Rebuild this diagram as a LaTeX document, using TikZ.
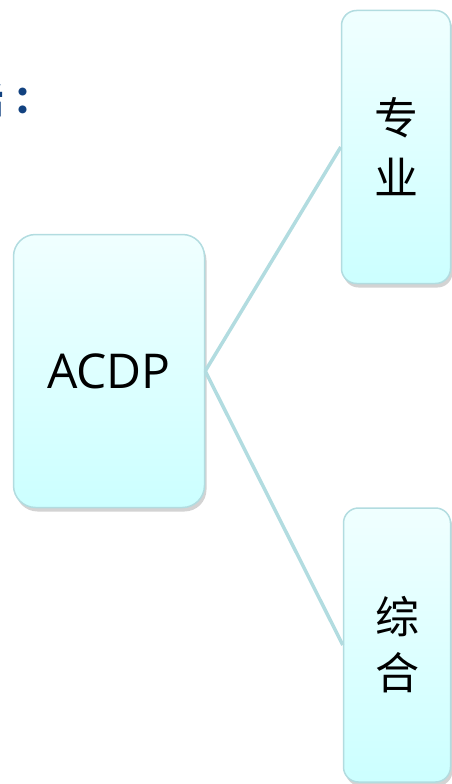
\documentclass[tikz,border=0pt]{standalone}
\usepackage{fontspec}
\setmainfont{Open Sans}
\newfontfamily\cjk{Noto Sans CJK SC}
\usepackage{tikz}
\usetikzlibrary{shadows}

\definecolor{boxtop}{HTML}{F0FFFF}
\definecolor{boxbottom}{HTML}{CCFFFF}
\definecolor{boxline}{HTML}{B2DCE0}
\definecolor{titleblue}{HTML}{124280}

\begin{document}
\begin{tikzpicture}[x=1pt, y=-1pt,
        box/.style={draw=boxline, line width=1.5pt, top color=boxtop, bottom color=boxbottom,
            drop shadow={opacity=0.35, shadow xshift=2pt, shadow yshift=-4pt},
            inner sep=0pt, align=center},
        branch/.style={draw=boxline, line width=3.5pt}]
            \useasboundingbox (0,0) rectangle (451,784);

            \node[anchor=base east, text=titleblue, font=\cjk\bfseries\fontsize{38}{42}\selectfont, inner sep=0pt]
                (title) at (52,113) {括\kern10pt：};

            \node[box, rounded corners=22pt, minimum width=191pt, minimum height=273pt,
                font=\fontsize{48}{56}\selectfont] (acdp) at (109,371) {ACDP};
            \node[box, rounded corners=15pt, minimum width=109pt, minimum height=273pt,
                font=\cjk\fontsize{44}{60}\selectfont] (zhuanye) at (396,147) {专\\业};
            \node[box, rounded corners=15pt, minimum width=107pt, minimum height=274pt,
                font=\cjk\fontsize{44}{56}\selectfont] (zonghe) at (397,645) {综\\合};

            \draw[branch] (acdp.east) -- (zhuanye.west);
            \draw[branch] (acdp.east) -- (zonghe.west);
        \end{tikzpicture}
\end{document}
